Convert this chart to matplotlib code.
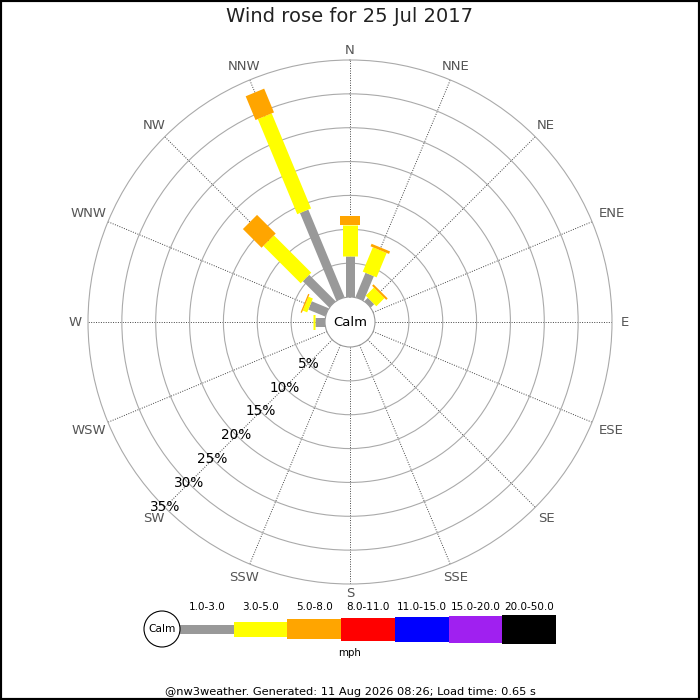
#!/usr/bin/env python3

import matplotlib.pyplot as plt
import numpy as np
from matplotlib.patches import Rectangle, Circle

################################################################################

directions = ['N', 'NNE', 'NE', 'ENE', 'E', 'ESE', 'SE', 'SSE',
              'S', 'SSW', 'SW', 'WSW', 'W', 'WNW', 'NW', 'NNW']

speed_bins = ['1.0-3.0', '3.0-5.0', '5.0-8.0', '8.0-11.0',
              '11.0-15.0', '15.0-20.0', '20.0-50.0']
bin_colours = ['#999999', '#ffff00', '#ffa500', '#ff0000',
               '#0000ff', '#a020f0', '#000000']
bin_widths = [9, 15, 20, 23, 25, 27, 29]    # petal / legend thickness, px

# percentage of the day in each direction, one list per speed bin
pct_1_3 = [6.0, 3.9, 0.7, 0, 0, 0, 0, 0, 0, 0, 0, 0, 1.5, 2.7, 5.5, 14.0]
pct_3_5 = [4.6, 3.9, 1.7, 0, 0, 0, 0, 0, 0, 0, 0, 0, 0.3, 0.7, 7.8, 15.2]
pct_5_8 = [1.3, 0.4, 0.3, 0, 0, 0, 0, 0, 0, 0, 0, 0, 0.0, 0.2, 3.9, 3.8]

ring_pcts = [5, 10, 15, 20, 25, 30, 35]

title = 'Wind rose for 25 Jul 2017'
footer = '@nw3weather. Generated: 11 Aug 2026 08:26; Load time: 0.65 s'

################################################################################

W = H = 700
cx, cy = 350, 322      # centre of the rose, px
R = 262                # outer ring radius, px
calm_r = 25            # calm circle radius, px
px = 72 / 100          # px -> points
scale = (R - calm_r) / ring_pcts[-1]    # px per percent

fig = plt.figure(figsize=(7, 7), dpi=100)
fig.patch.set_facecolor('white')

ax = fig.add_axes([(cx - R) / W, (H - cy - R) / H, 2 * R / W, 2 * R / H],
                  projection='polar')
ax.set_theta_zero_location('N')
ax.set_theta_direction(-1)
ax.set_ylim(0, ring_pcts[-1])
ax.set_rorigin(-calm_r / scale)
ax.set_axisbelow(True)

# grid
theta = np.deg2rad(np.arange(16) * 22.5)
ax.set_rgrids(ring_pcts[:-1], labels=[''] * (len(ring_pcts) - 1))
ax.set_thetagrids(np.arange(16) * 22.5, labels=[''] * 16)
ax.grid(axis='y', color='#aaaaaa', linewidth=0.8, linestyle='-')
ax.grid(axis='x', color='#444444', linewidth=0.7, linestyle=(0, (1, 1.5)))
ax.spines['polar'].set_color('#aaaaaa')
ax.spines['polar'].set_linewidth(0.8)
ax.spines['inner'].set_color('#999999')
ax.spines['inner'].set_linewidth(0.8)

# compass labels, centred just outside the outer ring
for th, lab in zip(theta, directions):
	off = 270 + 0.5 * 9 * len(lab) * abs(np.sin(th)) + 1.5 * abs(np.cos(th))
	ax.text(th, (off - calm_r) / scale, lab, ha='center', va='center',
	        fontsize=9.5, color='#555555')

# petals
series = [pct_1_3, pct_3_5, pct_5_8]
for i, th in enumerate(theta):
	start = 0
	for k, values in enumerate(series):
		if values[i] <= 0:
			continue
		ax.plot([th, th], [start, start + values[i]], color=bin_colours[k],
		        linewidth=bin_widths[k] * px, solid_capstyle='butt', zorder=3)
		start += values[i]

# ring labels along SW
for r in ring_pcts:
	ax.text(np.deg2rad(225), r, '{}%'.format(r), ha='center', va='center',
	        fontsize=9.8, color='black', zorder=5)

ax.text(0.5, 0.5, 'Calm', transform=ax.transAxes, ha='center', va='center',
        fontsize=9.5, color='black')

########################################

# legend, title and footer in pixel coordinates
lax = fig.add_axes([0, 0, 1, 1])
lax.set_xlim(0, W)
lax.set_ylim(H, 0)
lax.axis('off')
lax.patch.set_visible(False)

leg_x0, leg_y = 180, 629
seg_w = 53.7
for i, (lab, col, h) in enumerate(zip(speed_bins, bin_colours, bin_widths)):
	x = leg_x0 + i * seg_w
	lax.add_patch(Rectangle((x, leg_y - h / 2), seg_w, h, facecolor=col,
	                        edgecolor='none'))
	lax.text(x + seg_w / 2, 607, lab, ha='center', va='center', fontsize=7.5)

lax.add_patch(Circle((162, leg_y), 18, facecolor='white', edgecolor='black',
                     linewidth=0.8, zorder=4))
lax.text(162, leg_y, 'Calm', ha='center', va='center', fontsize=7.7, zorder=5)
lax.text(350, 653, 'mph', ha='center', va='center', fontsize=7.4)
lax.text(350, 692, footer, ha='center', va='center', fontsize=8.2)

fig.text(0.5, 1 - 17 / H, title, ha='center', va='center', fontsize=14,
         color='#222222')

fig.add_artist(Rectangle((0, 0), 1, 1, transform=fig.transFigure, fill=False,
                         edgecolor='black', linewidth=3))

fig.savefig('out.png', dpi=100)
